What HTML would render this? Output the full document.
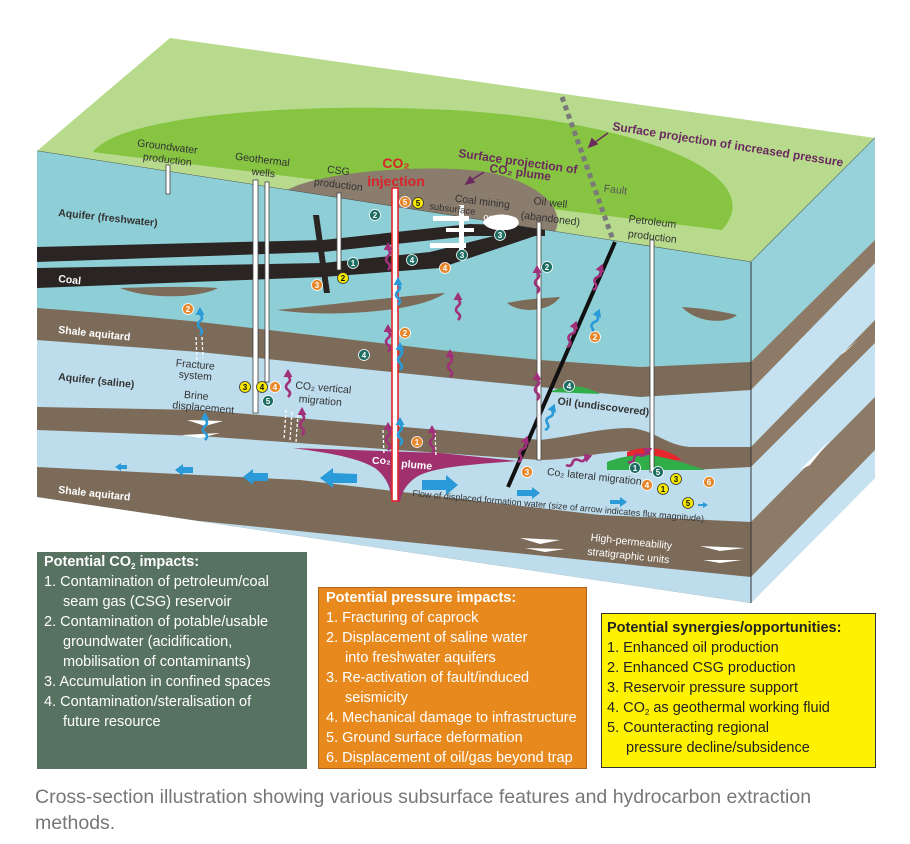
<!DOCTYPE html>
<html><head><meta charset="utf-8"><style>
body{margin:0;background:#fff;width:910px;height:844px;position:relative;overflow:hidden;font-family:"Liberation Sans",sans-serif}
svg{position:absolute;left:0;top:0}
.box{position:absolute;box-sizing:border-box;font-size:14.5px;line-height:20px;white-space:nowrap}
.box b{font-weight:bold}
.box div{padding-left:19px;text-indent:-19px}
.box sub{font-size:8px;line-height:0;vertical-align:-3px}
.cap{position:absolute;left:35px;top:784px;font-size:19.5px;line-height:26px;color:#777;white-space:nowrap}
</style></head><body>
<svg width="910" height="844" viewBox="0 0 910 844" font-family="Liberation Sans, sans-serif">
<defs>
<clipPath id="front"><polygon points="37,151 751,262 751,603 37,497"/></clipPath>
<clipPath id="top"><polygon points="37,151 170,38 875,138 751,262"/></clipPath>
<g id="sqm"><path d="M0,0 q4,-4 0,-7 q-4,-3 0,-7 q4,-3 0,-7" fill="none" stroke="#a0307a" stroke-width="2.6"/><polygon points="-4.5,-20 0,-28 4.5,-20" fill="#a0307a"/></g>
<g id="sqb"><path d="M0,0 q4,-4 0,-7 q-4,-3 0,-7 q4,-3 0,-7" fill="none" stroke="#2b9ad8" stroke-width="2.6"/><polygon points="-4.5,-20 0,-28 4.5,-20" fill="#2b9ad8"/></g>
</defs>
<polygon points="37,151 170,38 875,138 751,262" fill="#b7da8c"/>
<g clip-path="url(#top)">
<path d="M93,152 C120,115 300,102 450,110 C620,119 775,170 722,230 Z" fill="#86c441"/>
<path d="M287,190 C320,172 420,164 480,171 C530,178 568,205 555,232 Z" fill="#8b7d6d"/>
</g>
<line x1="37" y1="151" x2="751" y2="262" stroke="#333" stroke-width="0.8"/>
<line x1="751" y1="262" x2="875" y2="138" stroke="#333" stroke-width="0.8"/>
<g clip-path="url(#front)">
<rect x="30" y="140" width="730" height="480" fill="#8ecfd7"/>
<path d="M37,340 L200,352 L440,377 L540,387 L640,397 L751,390 L751,620 L37,620 Z" fill="#bddcec"/>
<path d="M37,308 C120,314 180,320 200,322 L440,350 L540,360 L640,367 L751,362 L751,390 L640,397 L540,387 L440,377 L200,352 L37,340 Z" fill="#7c6b58"/>
<path d="M37,407 L200,410 L440,430 L540,440 C575,436 600,428 630,428 C655,430 665,445 690,447 L751,447 L751,467 L690,470 C665,468 655,452 630,451 C600,452 570,460 540,460 L440,453 L200,436 L37,430 Z" fill="#7c6b58"/>
<path d="M37,467 L300,480 L470,500 L600,515 L751,522 L751,620 L37,620 Z" fill="#7c6b58"/>
<path d="M200,521 L751,577 L751,620 L200,620 Z" fill="#bddcec"/>
<polygon points="37,247 323,240 470,224 545,226 545,236 470,236 323,252 37,262" fill="#2a2523"/>
<polygon points="37,268 323,263 430,252 510,232 535,236 440,268 323,277 37,288" fill="#2a2523"/>
<polygon points="313,215 319,215 330,293 324,293" fill="#2a2523"/>
<path d="M120,288 C150,287 190,286 218,288 C200,298 150,300 120,288Z" fill="#7c6b58"/>
<path d="M277,310 C330,305 400,296 445,293 C420,312 330,318 277,310Z" fill="#7c6b58"/>
<path d="M507,303 C525,299 545,298 560,297 C550,312 520,314 507,303Z" fill="#7c6b58"/>
<path d="M682,307 C700,308 720,311 737,315 C725,325 695,322 682,307Z" fill="#7c6b58"/>
<path d="M550,392 C565,385 580,383 600,394 Z" fill="#2fae4a"/>
<path d="M627,452 C645,445 665,447 682,460 L627,460Z" fill="#e8262e"/>
<path d="M607,462 C625,455 640,455 650,455 C670,458 690,465 705,470 L607,470Z" fill="#2fae4a"/>
<path d="M293,448 L440,453 L517,461 C480,464 440,466 420,475 C405,483 401,495 400,502 L392,502 C391,490 388,478 375,468 C355,456 320,452 293,448 Z" fill="#a1306f"/>
<polygon points="187,420 223,421 205,426" fill="#fff"/>
<polygon points="182,435 220,433 200,438" fill="#fff"/>
<polygon points="520,538 560,540 540,544" fill="#fff"/>
<polygon points="525,548 565,549 545,552" fill="#fff"/>
<polygon points="700,546 745,548 720,551" fill="#fff"/>
<polygon points="703,560 742,560 720,563" fill="#fff"/>
<g stroke="#fff" stroke-width="1.3" stroke-dasharray="3,2">
<line x1="196" y1="337" x2="197" y2="360"/><line x1="202" y1="337" x2="203" y2="358"/>
<line x1="286" y1="410" x2="284" y2="440"/><line x1="292" y1="412" x2="290" y2="440"/><line x1="298" y1="414" x2="296" y2="442"/>
<line x1="383" y1="430" x2="384" y2="455"/><line x1="435" y1="432" x2="436" y2="456"/>
</g>
</g>
<polygon points="751,262 875,138 875,478 751,603" fill="#97d1d9"/>
<polygon points="751,362 875,240 875,263 751,390" fill="#8d7b67"/>
<polygon points="751,390 875,263 875,320 751,447" fill="#c6e1ef"/>
<polygon points="751,447 875,320 875,343 751,467" fill="#8d7b67"/>
<polygon points="751,467 875,343 875,397 751,522" fill="#c6e1ef"/>
<polygon points="751,522 875,397 875,450 751,577" fill="#8d7b67"/>
<polygon points="751,577 875,450 875,478 751,603" fill="#c6e1ef"/>
<polygon points="840,355 858,340 845,352" fill="#fff"/>
<polygon points="800,470 830,440 810,465" fill="#fff"/>
<line x1="751" y1="262" x2="751" y2="603" stroke="#333" stroke-width="1"/>
<g fill="#fff"><rect x="459" y="205" width="5" height="52"/><rect x="433" y="216" width="36" height="5"/><rect x="446" y="228" width="28" height="4"/><rect x="430" y="243" width="36" height="5"/></g>
<path d="M483,222 C488,214 505,212 516,218 C522,222 518,230 505,230 C495,231 485,228 483,222Z" fill="#fff"/>
<line x1="615" y1="242" x2="508" y2="487" stroke="#111" stroke-width="4"/>
<line x1="562" y1="97" x2="613" y2="240" stroke="#7a7a7a" stroke-width="5" stroke-dasharray="5,4"/>
<g fill="#fff" stroke="#444" stroke-width="0.8">
<rect x="166" y="165" width="4" height="29"/>
<rect x="253" y="180" width="5" height="233"/>
<rect x="265" y="182" width="4" height="200"/>
<rect x="337" y="193" width="4" height="77"/>
<rect x="537" y="222" width="4" height="238"/>
<rect x="650" y="240" width="4" height="232"/>
</g>
<rect x="392" y="188" width="6" height="313" fill="#fff" stroke="#e3262b" stroke-width="1.6"/>
<use href="#sqm" transform="translate(388,270)"/><use href="#sqm" transform="translate(458,320)"/>
<use href="#sqm" transform="translate(388,352)"/><use href="#sqm" transform="translate(450,377)"/>
<use href="#sqm" transform="translate(288,397)"/><use href="#sqm" transform="translate(302,435)"/>
<use href="#sqm" transform="translate(388,450)"/><use href="#sqm" transform="translate(432,453)"/>
<use href="#sqm" transform="translate(537,293)"/><use href="#sqm" transform="translate(537,400)"/>
<use href="#sqm" transform="translate(593,290) rotate(20)"/><use href="#sqm" transform="translate(567,347) rotate(20)"/>
<use href="#sqm" transform="translate(518,462) rotate(20)"/><use href="#sqm" transform="translate(566,465) rotate(70)"/>
<use href="#sqm" transform="translate(628,462) rotate(60)"/>
<use href="#sqb" transform="translate(398,305)"/><use href="#sqb" transform="translate(400,370)"/>
<use href="#sqb" transform="translate(400,445)"/><use href="#sqb" transform="translate(200,335)"/>
<use href="#sqb" transform="translate(205,440)"/><use href="#sqb" transform="translate(590,335) rotate(20)"/>
<use href="#sqb" transform="translate(545,430) rotate(20)"/>
<g fill="#2b9ad8">
<polygon points="115,467 121,463 121,465 127,465 127,469 121,469 121,471"/>
<polygon points="175,470 183,464 183,467 193,467 193,473 183,473 183,476"/>
<polygon points="243,477 253,469 253,473 268,473 268,481 253,481 253,485"/>
<polygon points="320,478 333,468 333,473 357,474 357,483 333,483 333,488"/>
<polygon points="458,485 446,475 446,480 422,480 422,490 446,490 446,495"/>
<polygon points="540,493 532,487 532,490 517,490 517,496 532,496 532,499"/>
<polygon points="627,502 620,497 620,500 610,500 610,504 620,504 620,507"/>
<polygon points="708,505 703,502 703,504 698,504 698,506 703,506 703,508"/>
</g>
<g font-size="10.5" fill="#333" text-anchor="middle">
<text transform="translate(167,150) rotate(7)">Groundwater</text>
<text transform="translate(167,163) rotate(7)">production</text>
<text transform="translate(262,163) rotate(7)">Geothermal</text>
<text transform="translate(263,176) rotate(7)">wells</text>
<text transform="translate(338,174) rotate(7)">CSG</text>
<text transform="translate(338,188) rotate(7)">production</text>
<text transform="translate(482,205) rotate(7)">Coal mining</text>
<text transform="translate(452,212) rotate(7)" font-size="9.5">subsurface</text>
<text transform="translate(500,222) rotate(7)" fill="#fff" font-size="9.5">open-pit</text>
<text transform="translate(550,206) rotate(7)">Oil well</text>
<text transform="translate(550,222) rotate(7)">(abandoned)</text>
<text transform="translate(652,225) rotate(7)">Petroleum</text>
<text transform="translate(652,240) rotate(7)">production</text>
<text transform="translate(615,193) rotate(7)" fill="#555">Fault</text>
<text transform="translate(195,368) rotate(5)">Fracture</text>
<text transform="translate(195,379) rotate(5)">system</text>
<text transform="translate(196,399) rotate(5)">Brine</text>
<text transform="translate(203,411) rotate(5)">displacement</text>
<text transform="translate(323,391) rotate(5)">CO₂ vertical</text>
<text transform="translate(320,404) rotate(5)">migration</text>
<text transform="translate(594,480) rotate(6)">Co₂ lateral migration</text>
<text transform="translate(603,410) rotate(7)" font-weight="bold">Oil (undiscovered)</text>
<text transform="translate(558,509) rotate(5)" font-size="9">Flow of displaced formation water (size of arrow indicates flux magnitude)</text>
<text transform="translate(631,545) rotate(6)" fill="#fff">High-permeability</text>
<text transform="translate(628,559) rotate(6)" fill="#fff">stratigraphic units</text>
</g>
<g font-size="10.5" font-weight="bold">
<text transform="translate(58,216) rotate(6)" fill="#333">Aquifer (freshwater)</text>
<text transform="translate(58,282) rotate(6)" fill="#fff">Coal</text>
<text transform="translate(58,333) rotate(6)" fill="#fff">Shale aquitard</text>
<text transform="translate(58,380) rotate(6)" fill="#333">Aquifer (saline)</text>
<text transform="translate(58,493) rotate(6)" fill="#fff">Shale aquitard</text>
<text x="372" y="464" fill="#fff">Co₂</text>
<text transform="translate(401,467) rotate(5)" fill="#fff">plume</text>
</g>
<g font-weight="bold" fill="#d8232b" font-size="14" text-anchor="middle">
<text x="396" y="168">CO₂</text><text x="396" y="186">injection</text>
</g>
<g font-weight="bold" fill="#6b2a5f" font-size="12">
<text transform="translate(458,157) rotate(8)">Surface projection of</text>
<text transform="translate(489,172) rotate(8)">CO₂ plume</text>
<text transform="translate(612,130) rotate(9)">Surface projection of increased pressure</text>
</g>
<g stroke="#6b2a5f" stroke-width="1.5" fill="#6b2a5f">
<line x1="484" y1="172" x2="470" y2="181"/><polygon points="466,184 470,177 474,182"/>
<line x1="608" y1="133" x2="594" y2="143"/><polygon points="589,147 592,139 597,144"/>
</g>
<g font-size="8" font-weight="bold" text-anchor="middle" stroke-width="0.8">
<g fill="#1d6d63" stroke="#fff">
<circle cx="375" cy="215" r="5.5"/><circle cx="353" cy="263" r="5.5"/><circle cx="412" cy="260" r="5.5"/><circle cx="462" cy="255" r="5.5"/><circle cx="364" cy="355" r="5.5"/><circle cx="268" cy="401" r="5.5"/><circle cx="500" cy="235" r="5.5"/><circle cx="547" cy="267" r="5.5"/><circle cx="569" cy="386" r="5.5"/><circle cx="635" cy="468" r="5.5"/><circle cx="658" cy="472" r="5.5"/>
</g>
<g fill="#e8872a" stroke="#fff">
<circle cx="405" cy="202" r="5.5"/><circle cx="317" cy="285" r="5.5"/><circle cx="445" cy="268" r="5.5"/><circle cx="188" cy="309" r="5.5"/><circle cx="405" cy="333" r="5.5"/><circle cx="275" cy="387" r="5.5"/><circle cx="417" cy="442" r="5.5"/><circle cx="595" cy="337" r="5.5"/><circle cx="527" cy="472" r="5.5"/><circle cx="647" cy="485" r="5.5"/><circle cx="709" cy="482" r="5.5"/>
</g>
<g fill="#f6e900" stroke="#333">
<circle cx="418" cy="203" r="5.5"/><circle cx="343" cy="278" r="5.5"/><circle cx="245" cy="387" r="5.5"/><circle cx="262" cy="387" r="5.5"/><circle cx="676" cy="479" r="5.5"/><circle cx="663" cy="489" r="5.5"/><circle cx="688" cy="503" r="5.5"/>
</g>
<g fill="#fff">
<text x="375" y="218">2</text><text x="353" y="266">1</text><text x="412" y="263">4</text><text x="462" y="258">3</text><text x="364" y="358">4</text><text x="268" y="404">5</text><text x="500" y="238">3</text><text x="547" y="270">2</text><text x="569" y="389">4</text><text x="635" y="471">1</text><text x="658" y="475">5</text>
<text x="405" y="205">5</text><text x="317" y="288">3</text><text x="445" y="271">4</text><text x="188" y="312">2</text><text x="405" y="336">2</text><text x="275" y="390">4</text><text x="417" y="445">1</text><text x="595" y="340">2</text><text x="527" y="475">3</text><text x="647" y="488">4</text><text x="709" y="485">6</text>
</g>
<g fill="#111">
<text x="418" y="206">5</text><text x="343" y="281">2</text><text x="245" y="390">3</text><text x="262" y="390">4</text><text x="676" y="482">3</text><text x="663" y="492">1</text><text x="688" y="506">5</text>
</g>
</g>
</svg>
<div class="box" style="left:37px;top:552px;width:270px;height:217px;background:#587262;color:#fff;padding:0 0 0 7px">
<div style="padding:0;text-indent:0"><b>Potential CO<sub>2</sub> impacts:</b></div>
<div>1. Contamination of petroleum/coal<br>seam gas (CSG) reservoir</div>
<div>2. Contamination of potable/usable<br>groundwater (acidification,<br>mobilisation of contaminants)</div>
<div>3. Accumulation in confined spaces</div>
<div>4. Contamination/steralisation of<br>future resource</div>
</div>
<div class="box" style="left:318px;top:587px;width:269px;height:182px;background:#e8891e;color:#fff;padding:0 0 0 7px;border:1px solid #a8621a">
<div style="padding:0;text-indent:0"><b>Potential pressure impacts:</b></div>
<div>1. Fracturing of caprock</div>
<div>2. Displacement of saline water<br>into freshwater aquifers</div>
<div>3. Re-activation of fault/induced<br>seismicity</div>
<div>4. Mechanical damage to infrastructure</div>
<div>5. Ground surface deformation</div>
<div>6. Displacement of oil/gas beyond trap</div>
</div>
<div class="box" style="left:601px;top:613px;width:275px;height:155px;background:#fff200;color:#222;padding:4px 0 0 5px;border:1.5px solid #333">
<div style="padding:0;text-indent:0"><b>Potential synergies/opportunities:</b></div>
<div>1. Enhanced oil production</div>
<div>2. Enhanced CSG production</div>
<div>3. Reservoir pressure support</div>
<div>4. CO<sub>2</sub> as geothermal working fluid</div>
<div>5. Counteracting regional<br>pressure decline/subsidence</div>
</div>
<div class="cap">Cross-section illustration showing various subsurface features and hydrocarbon extraction<br>methods.</div>
</body></html>
